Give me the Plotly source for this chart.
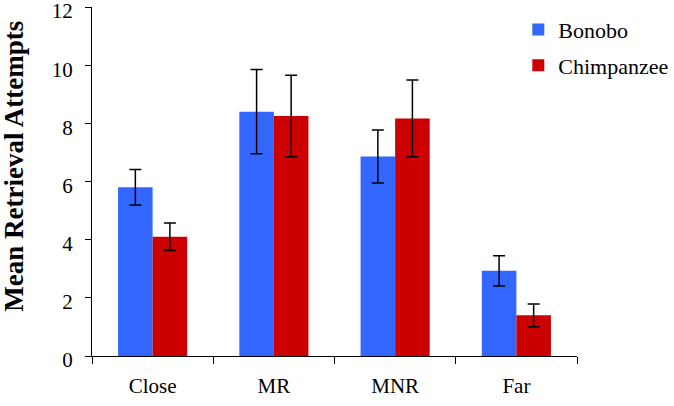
import plotly.graph_objects as go

categories = ["Close", "MR", "MNR", "Far"]
bonobo = [5.80, 8.40, 6.86, 2.93]
bonobo_err = [0.61, 1.45, 0.91, 0.52]
chimp = [4.10, 8.25, 8.17, 1.40]
chimp_err = [0.47, 1.40, 1.32, 0.39]
y_ticks = [0, 2, 4, 6, 8, 10, 12]

FONT = "Liberation Serif"

fig = go.Figure()
fig.add_trace(go.Bar(
    name="Bonobo", x=categories, y=bonobo, legendgroup="a",
    marker=dict(color="#3366FF", line=dict(width=0)),
    error_y=dict(type="data", array=bonobo_err, color="black", thickness=1.5, width=6),
))
fig.add_trace(go.Bar(
    name="Chimpanzee", x=categories, y=chimp, legendgroup="b",
    marker=dict(color="#CC0000", line=dict(width=0)),
    error_y=dict(type="data", array=chimp_err, color="black", thickness=1.5, width=6),
))

fig.update_layout(
    width=674, height=406,
    margin=dict(l=92, r=97, t=7, b=50, autoexpand=False),
    paper_bgcolor="white", plot_bgcolor="white",
    barmode="group", bargap=0.43, bargroupgap=0,
    font=dict(family=FONT, size=21, color="black"),
    showlegend=True,
    legend=dict(x=0.879, y=0.995, xanchor="left", yanchor="top",
                font=dict(family=FONT, size=22, color="black"),
                bgcolor="rgba(0,0,0,0)", tracegroupgap=4,
                traceorder="grouped"),
    xaxis=dict(
        type="category", range=[-0.5, 3.5], automargin=False,
        showline=True, linecolor="black", linewidth=1,
        ticks="outside", tickson="boundaries", ticklen=7, tickcolor="black",
        showgrid=False, zeroline=False,
        tickfont=dict(family=FONT, size=21, color="black"),
        ticklabelstandoff=11,
    ),
    yaxis=dict(
        range=[0, 12], tickvals=y_ticks, automargin=False,
        showline=True, linecolor="black", linewidth=1,
        ticks="outside", ticklen=6, tickcolor="black",
        showgrid=False, zeroline=False,
        tickfont=dict(family=FONT, size=21, color="black"),
        ticklabelstandoff=8, ticklabeloverflow="allow", ticklabelshift=4,
    ),
    annotations=[dict(
        text="<b>Mean Retrieval Attempts</b>", textangle=-90,
        xref="paper", yref="paper", x=-0.161, y=0.545,
        xanchor="center", yanchor="middle", showarrow=False,
        font=dict(family=FONT, size=27, color="black"),
    )],
)

fig.write_html("out.html")
